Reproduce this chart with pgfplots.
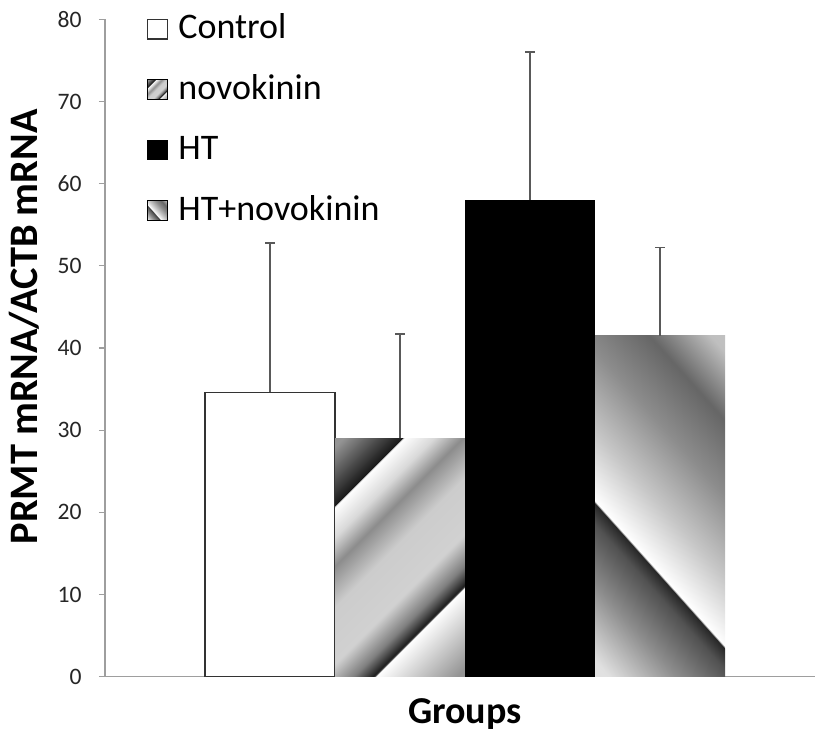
\documentclass[border=0pt]{standalone}
\usepackage{fontspec}
\setmainfont{Carlito}
\usepackage{pgfplots}
\pgfplotsset{compat=1.18}
\usetikzlibrary{calc}

% diagonal band gradient used for the novokinin group (stripes at 45 degrees)
\pgfdeclarehorizontalshading{novoshade}{100bp}{%
  color(0bp)=(black!42);
  color(16bp)=(black!42);
  color(27.4bp)=(black!90);
  color(27.6bp)=(white);
  color(33.5bp)=(black!15);
  color(39bp)=(black!45);
  color(47bp)=(black!20);
  color(58bp)=(black!18);
  color(64bp)=(black!50);
  color(68bp)=(black!90);
  color(68.2bp)=(white);
  color(84bp)=(black!42);
  color(100bp)=(black!42)}

% diagonal gradient used for the HT+novokinin group
\pgfdeclarehorizontalshading{htnovoshade}{100bp}{%
  color(0bp)=(black!10);
  color(17bp)=(black!12);
  color(28bp)=(black!45);
  color(36.8bp)=(black!68);
  color(39.9bp)=(black!85);
  color(40.1bp)=(white);
  color(50bp)=(black!22);
  color(62bp)=(black!45);
  color(73bp)=(black!60);
  color(83bp)=(black!25);
  color(100bp)=(black!22)}

\definecolor{errgray}{gray}{0.35}
\definecolor{axgray}{gray}{0.62}

\begin{document}
\begin{tikzpicture}
\begin{axis}[
  scale only axis,
  width=355pt, height=328.7pt,
  ymin=0, ymax=80,
  xmin=-1, xmax=0.972,
  ytick={0,10,...,80},
  xtick=\empty,
  axis x line*=bottom,
  axis y line*=left,
  axis line style={axgray, line width=0.6pt},
  tick align=outside,
  major tick length=3pt,
  ytick style={axgray, line width=0.6pt},
  /pgf/number format/assume math mode=true,
  yticklabel style={font=\fontsize{11.8}{13}\selectfont, text=black!85, inner sep=0pt, xshift=-8.5pt},
  ylabel={\bfseries PRMT mRNA/ACTB mRNA},
  ylabel style={font=\fontsize{20.2}{23}\selectfont, at={(axis description cs:-0.114,0.532)}, anchor=center, rotate=0},
  xlabel={\bfseries Groups},
  xlabel style={font=\fontsize{19}{22}\selectfont, at={(axis description cs:0.507,0)}, anchor=base, yshift=-23.5pt},
  ybar=0pt,
  bar width=65pt,
  clip=false,
  legend cell align=left,
  legend style={draw=none, fill=none, at={(axis description cs:0.0592,1.0066)}, anchor=north west,
    inner sep=0pt, outer sep=0pt, row sep=14.2pt, column sep=5pt,
    font=\fontsize{18}{21}\selectfont,
    nodes={inner sep=0pt, text height=12pt, text depth=4pt}},
  legend image code/.code={\draw[#1] (0pt,-4pt) rectangle (10pt,5.8pt);},
  error bars/y dir=plus,
  error bars/y explicit,
  error bars/error bar style={errgray, line width=0.7pt},
  error bars/error mark options={errgray, line width=0.7pt, mark size=2.3pt, rotate=90},
]
\addplot[fill=white, draw=black!80, line width=0.7pt] coordinates {(0,34.6) +- (0,18.2)};
\addlegendentry{Control}
\addplot[draw=none, shading=novoshade, shading angle=-45] coordinates {(0,29.0) +- (0,12.7)};
\addlegendentry{novokinin}
\addplot[fill=black, draw=none] coordinates {(0,58.0) +- (0,18.0)};
\addlegendentry{HT}
\addplot[draw=none, shading=htnovoshade, shading angle=41.8] coordinates {(0,41.5) +- (0,10.7)};
\addlegendentry{HT+novokinin}
\end{axis}
\pgfresetboundingbox
\useasboundingbox ($(current axis.south west)+(-52.5pt,-29.15pt)$) rectangle ($(current axis.north east)+(0pt,9.65pt)$);
\end{tikzpicture}
\end{document}
